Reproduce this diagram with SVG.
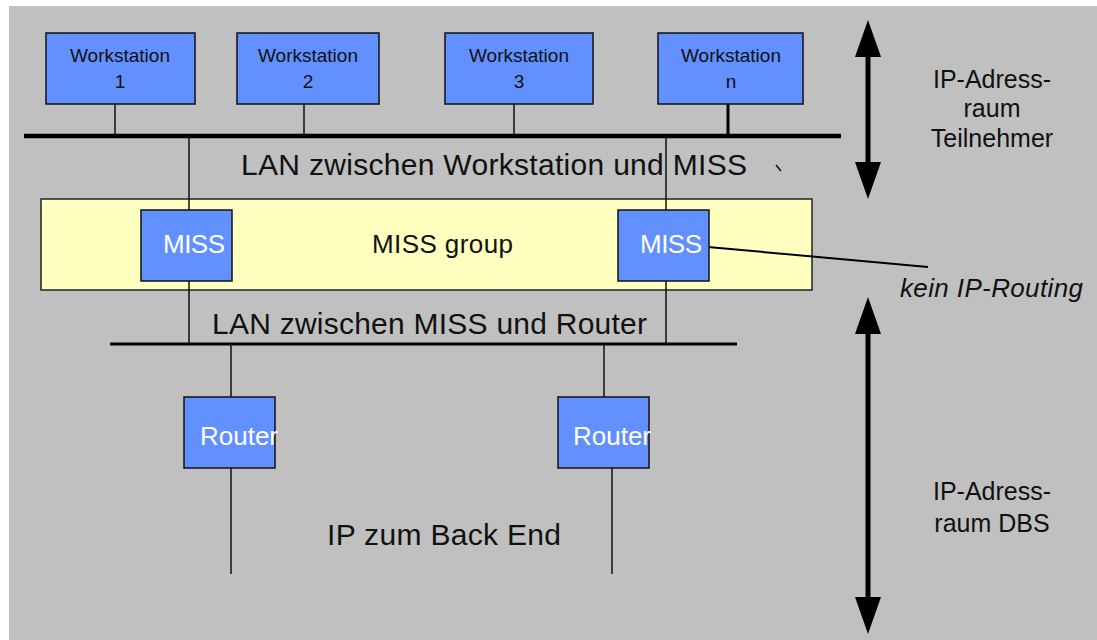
<svg xmlns="http://www.w3.org/2000/svg" width="1097" height="640" viewBox="0 0 1097 640">
  <style>
    .box { fill: #6290FF; stroke: #111; stroke-width: 1.5; }
    .group { fill: #FFFFC0; stroke: #222; stroke-width: 1.5; }
    .ws { font-family: "Liberation Sans", Arial, sans-serif; font-size: 19px; fill: #111; text-anchor: middle; }
    .inner { font-family: "Liberation Sans", Arial, sans-serif; font-size: 26px; fill: #fff; }
    .label { font-family: "Liberation Sans", Arial, sans-serif; font-size: 30px; fill: #111; }
    .side { font-family: "Liberation Sans", Arial, sans-serif; font-size: 25px; fill: #111; text-anchor: middle; }
    .thin { stroke: #111; stroke-width: 1.5; fill: none; }
  </style>
  <defs>
    <marker id="head" markerUnits="userSpaceOnUse" markerWidth="37" markerHeight="26" refX="0" refY="13" orient="auto-start-reverse">
      <path d="M0,0 L37,13 L0,26 Z" fill="#000"/>
    </marker>
  </defs>

  <!-- page background -->
  <rect x="0" y="0" width="1097" height="640" fill="#fff"/>
  <rect x="9" y="6" width="1088" height="634" fill="#C0C0C0"/>

  <!-- MISS group container -->
  <g id="miss-group">
    <rect class="group" x="41" y="199" width="771" height="91"/>
    <text class="label" x="372" y="253" font-size="26" style="font-size:26px" textLength="141">MISS group</text>
  </g>

  <!-- connectors -->
  <g id="connectors">
    <!-- workstation LAN bus -->
    <line x1="24" y1="136" x2="841" y2="136" stroke="#000" stroke-width="4.5"/>
    <line class="thin" x1="115" y1="104" x2="115" y2="136"/>
    <line class="thin" x1="304" y1="104" x2="304" y2="136"/>
    <line class="thin" x1="514" y1="104" x2="514" y2="136"/>
    <line x1="728" y1="104" x2="728" y2="136" stroke="#000" stroke-width="3"/>
    <!-- MISS uplinks / downlinks -->
    <line class="thin" x1="189" y1="136" x2="189" y2="210"/>
    <line class="thin" x1="189" y1="281" x2="189" y2="344"/>
    <line class="thin" x1="666" y1="136" x2="666" y2="210"/>
    <line class="thin" x1="666" y1="281" x2="666" y2="344"/>
    <!-- router LAN bus -->
    <line x1="110" y1="344" x2="737" y2="344" stroke="#000" stroke-width="3"/>
    <line class="thin" x1="231" y1="344" x2="231" y2="397"/>
    <line class="thin" x1="604" y1="344" x2="604" y2="397"/>
    <!-- back end links -->
    <line class="thin" x1="231" y1="468" x2="231" y2="574"/>
    <line class="thin" x1="612" y1="468" x2="612" y2="574"/>
    <!-- annotation leader -->
    <line x1="708" y1="247" x2="928" y2="267" stroke="#000" stroke-width="2"/>
    <!-- address space arrows -->
    <line x1="868" y1="57" x2="868" y2="162" stroke="#000" stroke-width="5" marker-start="url(#head)" marker-end="url(#head)"/>
    <line x1="868" y1="334" x2="868" y2="597" stroke="#000" stroke-width="5" marker-start="url(#head)" marker-end="url(#head)"/>
    <!-- small stray tick -->
    <line x1="776" y1="165" x2="781" y2="171" stroke="#111" stroke-width="1.5"/>
  </g>

  <!-- workstations -->
  <g id="ws1">
    <rect class="box" x="46" y="33" width="149" height="71"/>
    <text class="ws" x="120" y="62">Workstation</text>
    <text class="ws" x="120" y="88">1</text>
  </g>
  <g id="ws2">
    <rect class="box" x="237" y="33" width="142" height="71"/>
    <text class="ws" x="308" y="62">Workstation</text>
    <text class="ws" x="308" y="88">2</text>
  </g>
  <g id="ws3">
    <rect class="box" x="445" y="33" width="148" height="71"/>
    <text class="ws" x="519" y="62">Workstation</text>
    <text class="ws" x="519" y="88">3</text>
  </g>
  <g id="wsn">
    <rect class="box" x="658" y="33" width="145" height="71"/>
    <text class="ws" x="731" y="62">Workstation</text>
    <text class="ws" x="731" y="88">n</text>
  </g>

  <!-- MISS nodes -->
  <g id="miss1">
    <rect class="box" x="141" y="210" width="91" height="71"/>
    <text class="inner" x="163" y="253" textLength="62">MISS</text>
  </g>
  <g id="miss2">
    <rect class="box" x="618" y="210" width="91" height="71"/>
    <text class="inner" x="640" y="253" textLength="62">MISS</text>
  </g>

  <!-- routers -->
  <g id="router1">
    <rect class="box" x="184" y="397" width="91" height="71"/>
    <text class="inner" x="200" y="445" textLength="78">Router</text>
  </g>
  <g id="router2">
    <rect class="box" x="558" y="397" width="91" height="71"/>
    <text class="inner" x="573" y="445" textLength="78">Router</text>
  </g>

  <!-- segment labels -->
  <g id="labels">
    <text class="label" x="241" y="175" textLength="506">LAN zwischen Workstation und MISS</text>
    <text class="label" x="212" y="334" textLength="435">LAN zwischen MISS und Router</text>
    <text class="label" x="327" y="545" textLength="234">IP zum Back End</text>
    <text class="label" x="900" y="297" style="font-size:26px; font-style:italic" textLength="183">kein IP-Routing</text>
    <text class="side" x="992" y="88">IP-Adress-</text>
    <text class="side" x="992" y="117">raum</text>
    <text class="side" x="992" y="147">Teilnehmer</text>
    <text class="side" x="992" y="500">IP-Adress-</text>
    <text class="side" x="992" y="532">raum DBS</text>
  </g>
</svg>
